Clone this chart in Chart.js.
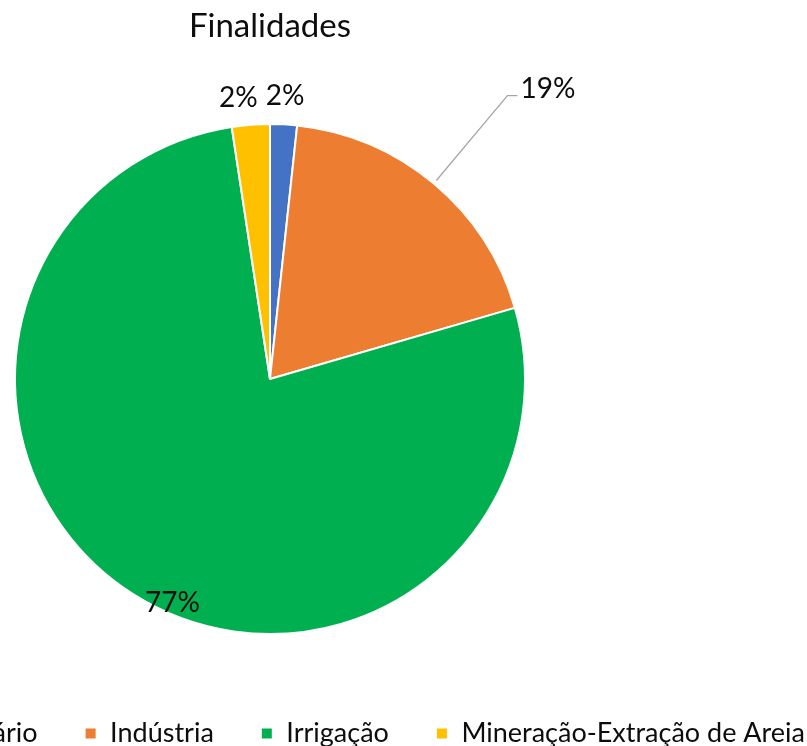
<!DOCTYPE html>
<html><head><meta charset="utf-8">
<script src="https://cdn.jsdelivr.net/npm/chart.js@4.4.1/dist/chart.umd.min.js"></script>
<style>
html,body{margin:0;padding:0;background:#fff;overflow:hidden;}
#wrap{position:relative;width:807px;height:746px;overflow:hidden;background:#fff;}
#c{position:absolute;left:-312px;top:0;}
</style></head><body>
<div id="wrap"><canvas id="c" width="1164" height="757"></canvas></div>
<script>
// ---- data ----
const chartTitle = 'Finalidades';
const categories = ['Esgotamento Sanitário', 'Indústria', 'Irrigação', 'Mineração-Extração de Areia'];
const percentages = [1.7, 18.8, 77.1, 2.4];
const sliceColors = ['#4472C4', '#ED7D31', '#00B050', '#FFC000'];

// ---- style ----
const FONT = 'Lato';
const TITLE_SIZE = 33, LEGEND_SIZE = 27, LABEL_SIZE = 28;
const TEXT_COLOR = '#0d0d0d';
const labelStyle = [
  {mode: 'outside', dr: 28, da: 0},
  {mode: 'leader', k: 1.45, tail: 10, gap: 3, dy: -7},
  {mode: 'outside', dr: -11, da: -9},
  {mode: 'outside', dr: 28, da: -2.1}
];

const pctLabels = {
  id: 'pctLabels',
  afterDatasetsDraw(chart) {
    const ctx = chart.ctx;
    const meta = chart.getDatasetMeta(0);
    ctx.save();
    ctx.font = LABEL_SIZE + 'px ' + FONT;
    ctx.fillStyle = TEXT_COLOR;
    ctx.textBaseline = 'middle';
    meta.data.forEach((arc, i) => {
      const p = arc.getProps(['x', 'y', 'startAngle', 'endAngle', 'outerRadius'], true);
      const st = labelStyle[i];
      const mid = (p.startAngle + p.endAngle) / 2 + (st.da || 0) * Math.PI / 180;
      const txt = Math.round(percentages[i]) + '%';
      if (st.mode === 'leader') {
        const r0 = p.outerRadius + 4, r1 = p.outerRadius * st.k;
        const x0 = p.x + Math.cos(mid) * r0, y0 = p.y + Math.sin(mid) * r0;
        const x1 = p.x + Math.cos(mid) * r1, y1 = p.y + Math.sin(mid) * r1;
        ctx.strokeStyle = '#A6A6A6';
        ctx.lineWidth = 1.3;
        ctx.beginPath();
        ctx.moveTo(x0, y0);
        ctx.lineTo(x1, y1);
        ctx.lineTo(x1 + st.tail, y1);
        ctx.stroke();
        ctx.textAlign = 'left';
        ctx.fillText(txt, x1 + st.tail + st.gap, y1 + st.dy);
      } else {
        const r = p.outerRadius + st.dr;
        ctx.textAlign = 'center';
        ctx.fillText(txt, p.x + Math.cos(mid) * r, p.y + Math.sin(mid) * r);
      }
    });
    ctx.restore();
  }
};

function draw() {
  new Chart(document.getElementById('c'), {
    type: 'pie',
    data: {
      labels: categories,
      datasets: [{
        data: percentages,
        backgroundColor: sliceColors,
        borderColor: '#ffffff',
        borderWidth: 2
      }]
    },
    options: {
      responsive: false,
      animation: false,
      events: [],
      radius: 255,
      layout: {padding: 0},
      plugins: {
        title: {
          display: true,
          text: chartTitle,
          color: TEXT_COLOR,
          font: {family: FONT, size: TITLE_SIZE, weight: 'normal'},
          padding: {top: 6.2, bottom: 39.2}
        },
        legend: {
          position: 'bottom',
          align: 'end',
          labels: {
            color: TEXT_COLOR,
            font: {family: FONT, size: LEGEND_SIZE},
            boxWidth: 12,
            boxHeight: 12,
            padding: 47
          }
        },
        tooltip: {enabled: false}
      }
    },
    plugins: [pctLabels]
  });
}
if (document.fonts && document.fonts.load) {
  Promise.all([document.fonts.load('27px Lato')]).then(draw, draw);
} else { draw(); }
</script>
</body></html>
